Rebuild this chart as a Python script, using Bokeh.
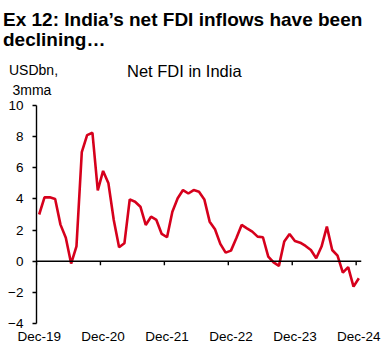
from bokeh.plotting import figure
from bokeh.models import FixedTicker, Range1d, ColumnDataSource, Span, Div
from bokeh.layouts import column
from bokeh.embed import file_html
from bokeh.resources import INLINE

# Monthly net FDI in India, USDbn, 3mma, Dec-19 .. Dec-24
month_index = list(range(61))
net_fdi = [3.0, 4.1, 4.1, 4.0, 2.35, 1.5, -0.15, 0.95, 7.0, 8.1,
           8.25, 4.55, 5.8, 5.0, 2.65, 0.9, 1.15, 3.97, 3.82, 3.5,
           2.33, 2.86, 2.65, 1.75, 1.54, 3.18, 4.04, 4.57, 4.35, 4.57,
           4.46, 3.97, 2.54, 2.05, 1.11, 0.55, 0.68, 1.47, 2.33, 2.11,
           1.9, 1.58, 1.54, 0.3, -0.08, -0.3, 1.26, 1.75, 1.3, 1.19,
           0.98, 0.72, 0.19, 0.94, 2.22, 0.72, 0.36, -0.73, -0.38, -1.63,
           -1.09]
year_labels = ["Dec-19", "Dec-20", "Dec-21", "Dec-22", "Dec-23", "Dec-24"]
y_ticks = [-4, -2, 0, 2, 4, 6, 8, 10]

title_line1 = "Ex 12: India\u2019s net FDI inflows have been"
title_line2 = "declining\u2026"
unit_line1 = "USDbn,"
unit_line2 = "3mma"
chart_name = "Net FDI in India"

FONT = "'Liberation Sans', Arial, sans-serif"

def span(text, left, top, size, bold=False):
    w = "bold" if bold else "normal"
    return (f'<span style="position:absolute;left:{left}px;top:{top}px;'
            f'font-family:{FONT};font-size:{size}px;font-weight:{w};'
            f'line-height:1;white-space:nowrap;color:#000;">{text}</span>')

HEAD_H = 97
html = (f'<div style="position:relative;width:389px;height:{HEAD_H}px;">'
        + span(title_line1, 3, 9.8, 19, True)
        + span(title_line2, 3, 30.3, 19, True)
        + span(unit_line1, 9, 63.2, 14)
        + span(unit_line2, 12.5, 83.2, 14)
        + span(chart_name, 127, 63, 16.5)
        + '</div>')
header = Div(text=html, width=389, height=HEAD_H, margin=0)

y_min, y_max = -4, 10
frame_h = 218
p = figure(width=389, height=266, output_backend="svg", toolbar_location=None,
           x_range=Range1d(-0.5, 60.5), y_range=Range1d(y_min, y_max),
           min_border_left=36, min_border_right=28, min_border_top=8,
           min_border_bottom=40, margin=0)
p.outline_line_color = None
p.xgrid.visible = False
p.ygrid.visible = False

# zero line acting as the category axis, with ticks at year boundaries
p.add_layout(Span(location=0, dimension="width", line_color="black", line_width=1.4))
tick_len = 4 * (y_max - y_min) / frame_h
bx = [m - 0.5 for m in month_index[::12]]
p.segment(x0=bx, x1=bx, y0=[0] * len(bx), y1=[-tick_len] * len(bx),
          line_color="black", line_width=1.4)

src = ColumnDataSource(dict(x=month_index, y=net_fdi))
p.line("x", "y", source=src, line_color="#D6001C", line_width=2.6)

# y axis
ya = p.yaxis[0]
ya.ticker = FixedTicker(ticks=y_ticks)
ya.axis_line_color = "black"
ya.axis_line_width = 1.4
ya.major_tick_line_color = "black"
ya.major_tick_line_width = 1.4
ya.major_tick_out = 4
ya.major_tick_in = 0
ya.minor_tick_line_color = None
ya.major_label_text_font = "Liberation Sans"
ya.major_label_text_font_size = "13.5px"
ya.major_label_text_color = "black"
ya.major_label_standoff = 9

# bottom labels
xa = p.xaxis[0]
xa.ticker = FixedTicker(ticks=month_index[::12])
xa.major_label_overrides = {m: l for m, l in zip(month_index[::12], year_labels)}
xa.axis_line_color = None
xa.major_tick_line_color = None
xa.major_tick_out = 0
xa.major_tick_in = 0
xa.minor_tick_line_color = None
xa.major_label_text_font = "Liberation Sans"
xa.major_label_text_font_size = "13.5px"
xa.major_label_text_color = "black"
xa.major_label_standoff = 5

layout = column(header, p, spacing=0, margin=0)
open("out.html", "w").write(file_html(layout, INLINE))
